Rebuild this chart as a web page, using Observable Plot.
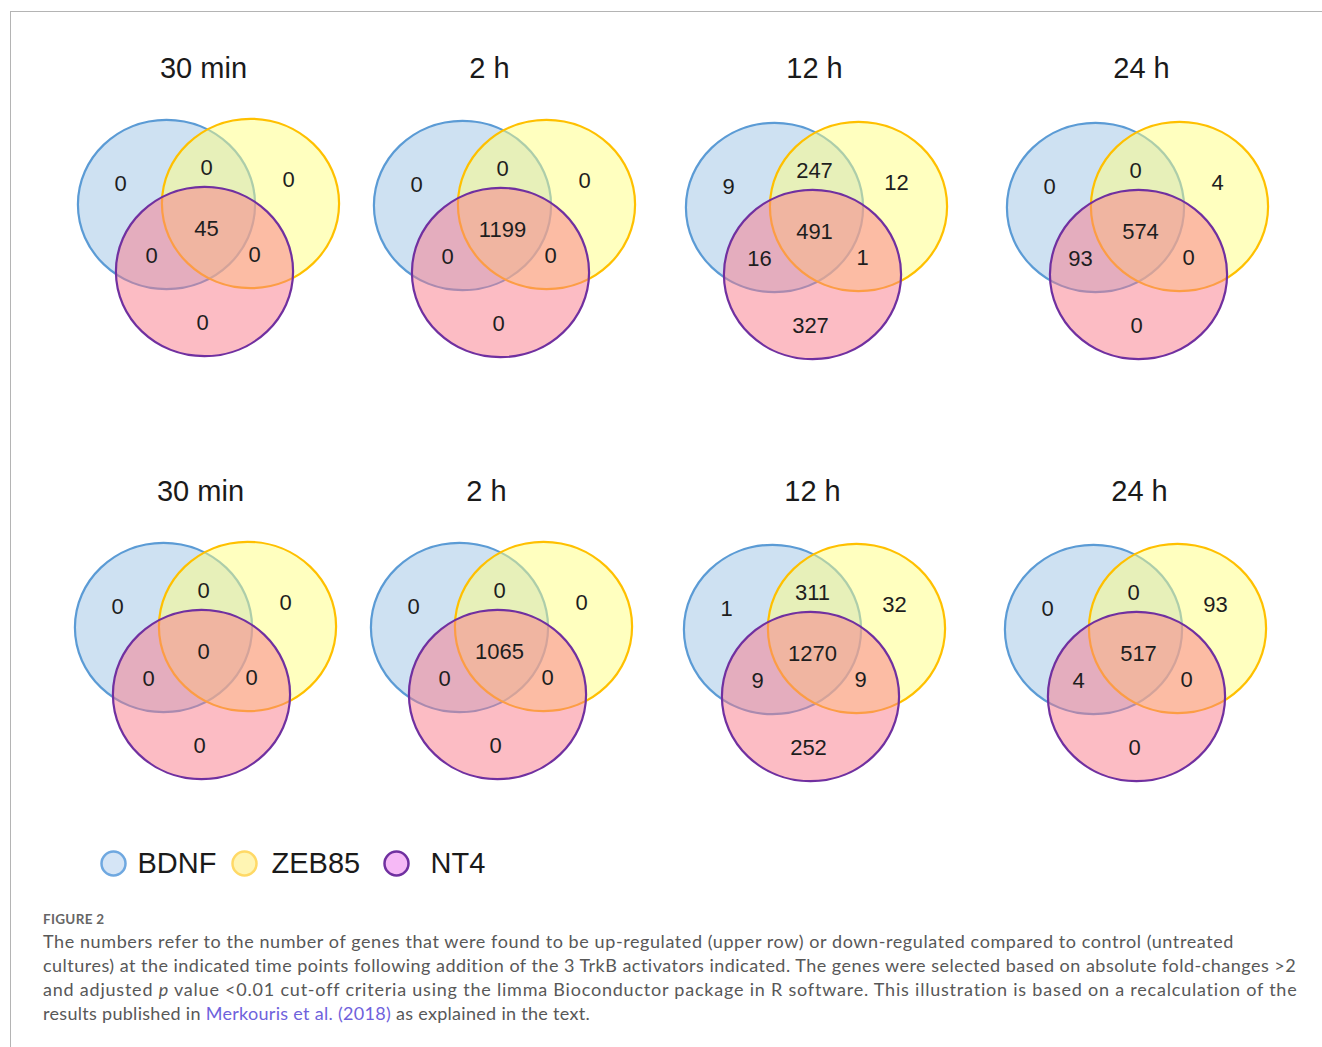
<!DOCTYPE html>
<html>
<head>
<meta charset="utf-8">
<script src="https://cdn.jsdelivr.net/npm/d3@7"></script>
<script src="https://cdn.jsdelivr.net/npm/@observablehq/plot@0.6"></script>
<style>
  html, body { margin: 0; padding: 0; background: #fff; }
  #frame { position: absolute; left: 10px; top: 11px; width: 1312px; height: 1036px;
           border-top: 1px solid #b4b4b4; border-left: 1px solid #b4b4b4; }
  #chart { position: absolute; left: 0; top: 0; }
  #caption { position: absolute; left: 43px; top: 909px; width: 1275px;
             font-family: Lato, "Open Sans", sans-serif; color: #585858; }
  #caption .fig { font-size: 13.5px; font-weight: 700; color: #666; letter-spacing: 0.3px; line-height: 20px; }
  #caption .txt { font-size: 18px; line-height: 24px; white-space: nowrap; }
  #caption .ln { display: inline-block; }
  #caption a { color: #6f62dc; text-decoration: none; }
</style>
</head>
<body>
<div id="frame"></div>
<div id="chart"></div>
<div id="caption">
  <div class="fig">FIGURE 2</div>
  <div class="txt"><span class="ln">The numbers refer to the number of genes that were found to be up-regulated (upper row) or down-regulated compared to control (untreated</span><br><span class="ln">cultures) at the indicated time points following addition of the 3 TrkB activators indicated. The genes were selected based on absolute fold-changes &gt;2</span><br><span class="ln">and adjusted <i>p</i> value &lt;0.01 cut-off criteria using the limma Bioconductor package in R software. This illustration is based on a recalculation of the</span><br><span class="ln">results published in <a>Merkouris et al. (2018)</a> as explained in the text.</span></div>
</div>
<script>
// ---- data ----
const timePoints = ["30 min", "2 h", "12 h", "24 h"];
const directions = ["up", "down"];
const sets = ["BDNF", "ZEB85", "NT4"];
// region order: BDNF only, ZEB85 only, NT4 only, BDNF∩ZEB85, BDNF∩NT4, ZEB85∩NT4, all three
const regions = ["B", "Z", "N", "BZ", "BN", "ZN", "BZN"];
const up30min = [0, 0, 0, 0, 0, 0, 45];
const up2h    = [0, 0, 0, 0, 0, 0, 1199];
const up12h   = [9, 12, 327, 247, 16, 1, 491];
const up24h   = [0, 4, 0, 0, 93, 0, 574];
const down30min = [0, 0, 0, 0, 0, 0, 0];
const down2h    = [0, 0, 0, 0, 0, 0, 1065];
const down12h   = [1, 32, 252, 311, 9, 9, 1270];
const down24h   = [0, 93, 0, 0, 4, 0, 517];

// ---- layout (presentation only) ----
const W = 1322, H = 900;
const panelCx = {up: [204, 500, 812, 1138], down: [201, 497, 810, 1136]};
const panelCy = {up: [271, 272, 274, 274], down: [694, 694, 696, 696]};
const colShift = [0, 0, 0, -5];      // BDNF/ZEB85 pair shift per column
const titleDx = [-1, -11, 2, 3];
const titleY = {up: 68, down: 491};
const circleOffset = {BDNF: [-38, -67], ZEB85: [46, -68], NT4: [0, 0]};
const shifted = {BDNF: true, ZEB85: true, NT4: false};
const regionOffset = {B: [-84, -88], Z: [84, -92], N: [-2, 51], BZ: [2, -104], BN: [-53, -16], ZN: [50, -17], BZN: [2, -43]};
const regionShifted = {B: true, Z: true, BZ: true, BN: true, N: false, ZN: false, BZN: false};
const fills = {BDNF: "#9dc3e6", ZEB85: "#ffff80", NT4: "#f97989"};
const strokes = {BDNF: "#5b9bd5", ZEB85: "#ffc000", NT4: "#7030a0"};
const legendFill = {BDNF: "#d5e5f6", ZEB85: "#fff5b3", NT4: "#f6b9f6"};
const legendStroke = {BDNF: "#6fa8e0", ZEB85: "#ffd966", NT4: "#7030a0"};
const legendX = [113, 244, 396], legendTextX = [137, 271, 430], legendY = 863;

const values = {
  up: [up30min, up2h, up12h, up24h],
  down: [down30min, down2h, down12h, down24h]
};

// ellipse symbol (slightly wider than tall, as in the reference)
const ellipse = {
  draw(ctx, size) {
    const r = Math.sqrt(size / Math.PI);
    const rx = r * 1.03, ry = r * 0.985, k = 0.5523;
    ctx.moveTo(rx, 0);
    ctx.bezierCurveTo(rx, ry * k, rx * k, ry, 0, ry);
    ctx.bezierCurveTo(-rx * k, ry, -rx, ry * k, -rx, 0);
    ctx.bezierCurveTo(-rx, -ry * k, -rx * k, -ry, 0, -ry);
    ctx.bezierCurveTo(rx * k, -ry, rx, -ry * k, rx, 0);
    ctx.closePath();
  }
};

const circles = [], labels = [], titles = [];
for (const dir of directions) {
  timePoints.forEach((t, i) => {
    const cx = panelCx[dir][i], cy = panelCy[dir][i];
    titles.push({x: cx + titleDx[i], y: titleY[dir], text: t});
    for (const s of sets) circles.push({set: s, x: cx + circleOffset[s][0] + (shifted[s] ? colShift[i] : 0), y: cy + circleOffset[s][1]});
    regions.forEach((r, j) => labels.push({
      x: cx + regionOffset[r][0] + (regionShifted[r] ? colShift[i] : 0),
      y: cy + regionOffset[r][1],
      text: String(values[dir][i][j])
    }));
  });
}
const legend = sets.map((s, i) => ({set: s, x: legendX[i], tx: legendTextX[i], y: legendY}));

const font = "'Liberation Sans', Arial, sans-serif";
const plot = Plot.plot({
  width: W, height: H, margin: 0,
  x: {domain: [0, W], range: [0, W], axis: null},
  y: {domain: [0, H], range: [0, H], axis: null},
  style: {background: "transparent"},
  marks: [
    ...sets.map(s => Plot.dot(circles.filter(d => d.set === s), {
      x: "x", y: "y", r: 86, symbol: ellipse,
      fill: fills[s], fillOpacity: 0.5, stroke: strokes[s], strokeWidth: 2.2
    })),
    Plot.text(labels, {x: "x", y: "y", text: "text", fontSize: 22, fill: "#1e1e1e", fontFamily: font}),
    Plot.text(titles, {x: "x", y: "y", text: "text", fontSize: 29, fill: "#1a1a1a", fontFamily: font}),
    ...sets.map(s => Plot.dot(legend.filter(d => d.set === s), {
      x: "x", y: "y", r: 12, fill: legendFill[s], stroke: legendStroke[s], strokeWidth: 2.5
    })),
    Plot.text(legend, {x: "tx", y: "y", text: "set", textAnchor: "start", fontSize: 29, fill: "#1a1a1a", fontFamily: font})
  ]
});
document.getElementById("chart").appendChild(plot);

// fit each caption line to the width it has in the reference
const lineWidths = [1191, 1254, 1254, 547];
document.querySelectorAll("#caption .ln").forEach((el, i) => {
  const w = el.getBoundingClientRect().width;
  el.style.letterSpacing = ((lineWidths[i] - w) / el.textContent.length).toFixed(3) + "px";
});
</script>
</body>
</html>
